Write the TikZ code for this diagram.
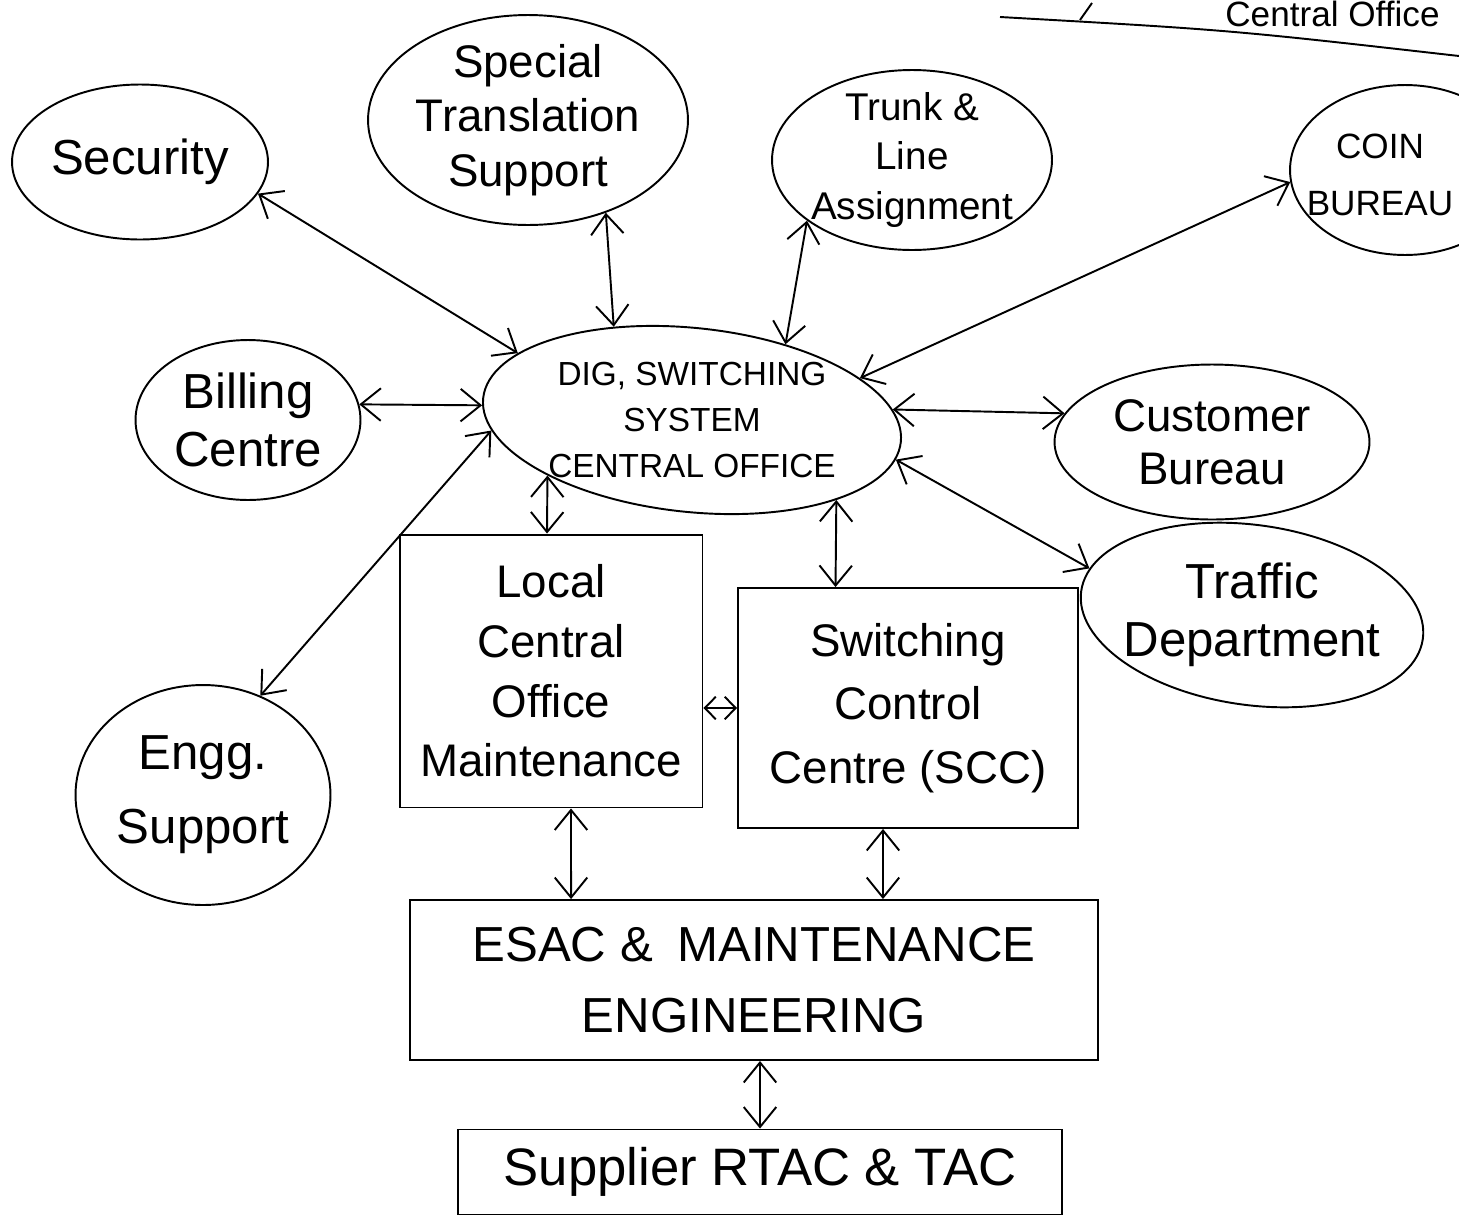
\documentclass[tikz,border=0pt]{standalone}
\usepackage{fontspec}
\setmainfont{Liberation Sans}
\usetikzlibrary{shapes.geometric,arrows.meta}
\tikzset{
  bub/.style={draw, ellipse, line width=1.1pt, inner sep=0pt},
  boxn/.style={draw, rectangle, line width=1.1pt, inner sep=0pt},
  lbl/.style={align=center, inner sep=0pt},
  link/.style={line width=1.1pt, {Straight Barb[length=4mm,width=6.5mm]}-{Straight Barb[length=4mm,width=6.5mm]}},
  linksmall/.style={line width=1.1pt, {Straight Barb[length=2.2mm,width=4.5mm]}-{Straight Barb[length=2.2mm,width=4.5mm]}},
}
\begin{document}
\begin{tikzpicture}[x=0.02cm,y=-0.02cm]
\useasboundingbox (0,0) rectangle (1459,1224);
\fill[white] (0,0) rectangle (1459,1224);
\clip (0,0) rectangle (1459,1224);

% header fragment at the top right
\node[anchor=base west, inner sep=0pt, font=\fontsize{20}{20}\selectfont] (hdr) at (1225,26) {Central Office};
\draw[line width=1.1pt] (1000,17) .. controls (1230,30) .. (1459,56);
\draw[line width=1.1pt] (1080,20) -- (1092,3);

% ellipses
\node[bub, minimum width=5.12cm, minimum height=3.1cm] (sec) at (140,162) {};
\node[lbl, font=\fontsize{28}{33}\selectfont] (sect) at (sec) {Security};

\node[bub, minimum width=6.4cm, minimum height=4.2cm] (sts) at (528,120) {};
\node[lbl, font=\fontsize{26}{31}\selectfont] (stst) at (sts) {Special\\Translation\\Support};

\node[bub, minimum width=5.6cm, minimum height=3.6cm] (tla) at (912,160) {};
\node[lbl, font=\fontsize{22}{28}\selectfont] (tlat) at (tla) {Trunk \&\\Line\\Assignment};

\node[bub, minimum width=4.6cm, minimum height=3.4cm] (coin) at (1405,170) {};
\node[lbl, font=\fontsize{20}{32}\selectfont] (coint) at ([xshift=-0.5cm,yshift=-0.1cm]coin.center) {COIN\\BUREAU};

\node[bub, rotate=-6, minimum width=8.4cm, minimum height=3.68cm] (dig) at (692,420) {};
\node[lbl, font=\fontsize{19}{26}\selectfont] (digt) at (dig) {DIG, SWITCHING\\SYSTEM\\CENTRAL OFFICE};

\node[bub, minimum width=4.5cm, minimum height=3.2cm] (bill) at (248,420) {};
\node[lbl, font=\fontsize{28}{33}\selectfont] (billt) at (bill) {Billing\\Centre};

\node[bub, minimum width=6.3cm, minimum height=3.1cm] (cust) at (1212,442) {};
\node[lbl, font=\fontsize{26}{30}\selectfont] (custt) at (cust) {Customer\\Bureau};

\node[bub, rotate=-8, minimum width=6.9cm, minimum height=3.6cm] (traf) at (1252,615) {};
\node[lbl, font=\fontsize{28}{33}\selectfont] (traft) at (traf) {Traffic\\Department};

\node[bub, minimum width=5.1cm, minimum height=4.4cm] (engg) at (203,795) {};
\node[lbl, font=\fontsize{28}{42}\selectfont] (enggt) at (engg) {Engg.\\Support};

% boxes
\node[boxn, minimum width=6.06cm, minimum height=5.46cm] (loc) at (551,671) {};
\node[lbl, font=\fontsize{26}{34}\selectfont] (loct) at (loc) {Local\\Central\\Office\\Maintenance};

\node[boxn, minimum width=6.8cm, minimum height=4.8cm] (scc) at (908,708) {};
\node[lbl, font=\fontsize{26}{36}\selectfont] (scct) at (scc) {Switching\\Control\\Centre (SCC)};

\node[boxn, minimum width=13.76cm, minimum height=3.2cm] (esac) at (754,980) {};
\node[lbl, font=\fontsize{28}{40}\selectfont] (esact) at (esac) {ESAC \&\enspace MAINTENANCE\\ENGINEERING};

\node[boxn, minimum width=12.08cm, minimum height=1.7cm] (sup) at (760,1172) {};
\node[lbl, font=\fontsize{30}{30}\selectfont] (supt) at (sup) {Supplier RTAC \& TAC};

% connectors
\draw[link] (sec.-15) -- (dig.165);
\draw[link] (sts.-50) -- (dig.136);
\draw[link] (tla.-150) -- (dig.45);
\draw[link] (coin.186) -- (dig.20);
\draw[link] (bill.8) -- (dig.182);
\draw[link] (dig.9) -- (cust.169);
\draw[link] (dig.-5) -- (traf.172);
\draw[link] (dig.189) -- (engg.60);
\draw[link] (dig.207) -- ([xshift=-0.08cm]loc.north);
\draw[link] (dig.-23) -- ([xshift=-1.45cm]scc.north);
\draw[linksmall] (loc.east |- scc.west) -- (scc.west);
\draw[link] ([xshift=0.4cm]loc.south) -- ([xshift=-3.66cm]esac.north);
\draw[link] ([xshift=-0.5cm]scc.south) -- ([xshift=2.58cm]esac.north);
\draw[link] ([xshift=0.12cm]esac.south) -- (sup.north);
\end{tikzpicture}
\end{document}
